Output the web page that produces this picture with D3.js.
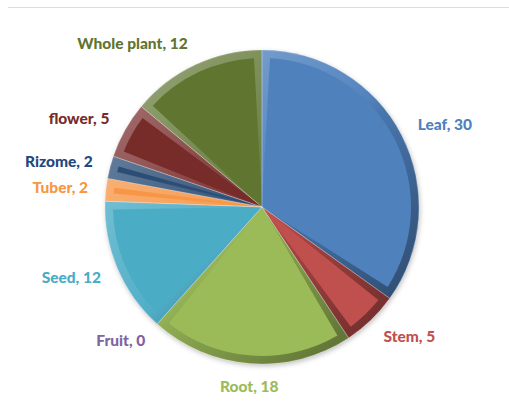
<!DOCTYPE html>
<html>
<head>
<meta charset="utf-8">
<script src="https://cdn.jsdelivr.net/npm/d3@7"></script>
<style>
  body { margin: 0; background: #fff; }
  #chart { width: 509px; height: 406px; }
</style>
</head>
<body>
<div id="chart"></div>
<script>
const categories = ["Leaf", "Stem", "Root", "Fruit", "Seed", "Tuber", "Rizome", "flower", "Whole plant"];
const values = [30, 5, 18, 0, 12, 2, 2, 5, 12];
const sliceColors = ["#4f81bd", "#c0504d", "#9bbb59", "#8064a2", "#4bacc6", "#f79646", "#2c4d75", "#772c2a", "#5f7530"];
const labelColors = ["#4f81bd", "#c0504d", "#9bbb59", "#8064a2", "#4bacc6", "#f79646", "#1f497d", "#772c2a", "#5f7530"];

const width = 509, height = 406;
const cx = 262, cy = 207, radius = 157;
const bevel = 8;

const data = categories.map((c, i) => ({ name: c, value: values[i], color: sliceColors[i], label: labelColors[i] }));

const svg = d3.select("#chart").append("svg")
    .attr("width", width)
    .attr("height", height);

// thin frame line at top
svg.append("line")
    .attr("x1", 8).attr("x2", width)
    .attr("y1", 7.5).attr("y2", 7.5)
    .attr("stroke", "#dcdcdc")
    .attr("stroke-width", 1);

const defs = svg.append("defs");

// light from top-left, dark to bottom-right (coords relative to pie centre)
const shade = defs.append("linearGradient")
    .attr("id", "shade")
    .attr("gradientUnits", "userSpaceOnUse")
    .attr("x1", -radius * 0.7).attr("y1", -radius * 0.7)
    .attr("x2", radius * 0.7).attr("y2", radius * 0.7);
shade.append("stop").attr("offset", "0%").attr("stop-color", "#fff").attr("stop-opacity", 0.28);
shade.append("stop").attr("offset", "45%").attr("stop-color", "#fff").attr("stop-opacity", 0.05);
shade.append("stop").attr("offset", "55%").attr("stop-color", "#000").attr("stop-opacity", 0.08);
shade.append("stop").attr("offset", "100%").attr("stop-color", "#000").attr("stop-opacity", 0.38);

const shadow = defs.append("filter").attr("id", "shadow")
    .attr("x", "-10%").attr("y", "-10%").attr("width", "120%").attr("height", "120%");
shadow.append("feDropShadow")
    .attr("dx", 1).attr("dy", 2).attr("stdDeviation", 2.5)
    .attr("flood-color", "#000").attr("flood-opacity", 0.25);

const pie = d3.pie().value(d => d.value).sort(null);
const arcs = pie(data);
const shown = arcs.filter(d => d.value > 0);

const outerArc = d3.arc().innerRadius(0).outerRadius(radius);
const innerArc = d3.arc().innerRadius(0).outerRadius(radius - bevel)
    .padRadius(radius).padAngle(bevel * 2 / radius);

const g = svg.append("g").attr("transform", `translate(${cx},${cy})`);

g.append("g").attr("filter", "url(#shadow)")
    .selectAll("path")
    .data(shown)
    .join("path")
    .attr("d", outerArc)
    .attr("fill", d => d.data.color);

// bevel rim lighting
g.append("g").selectAll("path")
    .data(shown)
    .join("path")
    .attr("d", outerArc)
    .attr("fill", "url(#shade)");

// inner flat faces
g.append("g").selectAll("path")
    .data(shown)
    .join("path")
    .attr("d", innerArc)
    .attr("fill", d => d.data.color);

// thin seams between slices
g.append("g").selectAll("path")
    .data(shown)
    .join("path")
    .attr("d", outerArc)
    .attr("fill", "none")
    .attr("stroke", "rgba(255,255,255,0.3)")
    .attr("stroke-width", 0.7);

// labels
const labelR = radius + 18;
g.append("g").selectAll("text")
    .data(arcs)
    .join("text")
    .each(function (d) {
        const a = (d.startAngle + d.endAngle) / 2;
        const s = Math.sin(a), c = Math.cos(a);
        d3.select(this)
            .attr("x", s * labelR)
            .attr("y", -c * labelR - c * 5)
            .attr("dy", "0.35em")
            .attr("text-anchor", s > 0.15 ? "start" : (s < -0.15 ? "end" : "middle"));
    })
    .attr("fill", d => d.data.label)
    .style("font-family", "Lato, 'Open Sans', sans-serif")
    .style("font-weight", "900")
    .style("font-size", "15.5px")
    .text(d => `${d.data.name}, ${d.data.value}`);
</script>
</body>
</html>
